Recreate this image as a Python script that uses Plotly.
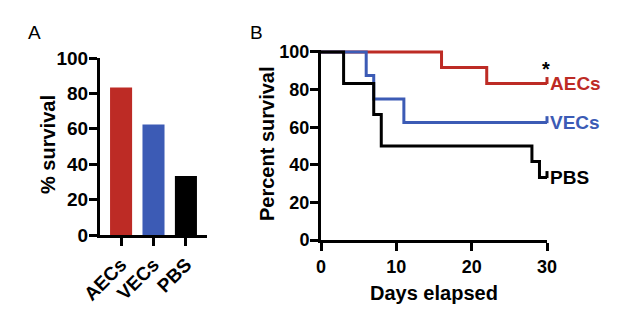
import plotly.graph_objects as go

# Panel A data
groups = ["AECs", "VECs", "PBS"]
pct_survival = [83.3, 62.5, 33.3]
colors = ["#bd2b25", "#3c5bb5", "#000000"]

# Panel B data (Kaplan-Meier step curves)
aec_days = [0, 16, 22, 30]
aec_surv = [100, 91.7, 83.3, 83.3]
vec_days = [0, 6, 7, 11, 30]
vec_surv = [100, 87.5, 75, 62.5, 62.5]
pbs_days = [0, 3, 7, 8, 28, 29, 30]
pbs_surv = [100, 83.3, 66.7, 50, 41.7, 33.3, 33.3]

FONT = "Liberation Sans, Arial, sans-serif"

fig = go.Figure()

fig.add_trace(go.Bar(x=groups, y=pct_survival, marker=dict(color=colors, line=dict(width=0)),
                     width=0.68, xaxis="x", yaxis="y", showlegend=False))

series = [(aec_days, aec_surv, colors[0], "AECs"),
          (vec_days, vec_surv, colors[1], "VECs"),
          (pbs_days, pbs_surv, colors[2], "PBS")]
for d, s, c, name in series:
    fig.add_trace(go.Scatter(x=d, y=s, mode="lines", line=dict(shape="hv", color=c, width=3),
                             xaxis="x2", yaxis="y2", showlegend=False, cliponaxis=False))
    fig.add_trace(go.Scatter(x=[d[-1]], y=[s[-1] + 1.5], mode="markers",
                             marker=dict(symbol="line-ns", size=5, line=dict(width=3, color=c)),
                             xaxis="x2", yaxis="y2", showlegend=False, cliponaxis=False))

def axis_common(fs):
    return dict(showline=True, linecolor="black", linewidth=3, ticks="outside",
                tickwidth=3, ticklen=8, tickcolor="black", showgrid=False, zeroline=False,
                automargin=False,
                tickfont=dict(family=FONT, size=fs, color="black", weight="bold"))

title_font = dict(family=FONT, size=20, color="black", weight="bold")

annotations = [
    dict(text="A", x=34/640, y=1-33/328, xref="paper", yref="paper", showarrow=False,
         font=dict(family=FONT, size=19, color="black"), xanchor="center", yanchor="middle"),
    dict(text="B", x=256/640, y=1-33/328, xref="paper", yref="paper", showarrow=False,
         font=dict(family=FONT, size=19, color="black"), xanchor="center", yanchor="middle"),
    dict(text="% survival", x=48/640, y=1-145/328, xref="paper", yref="paper", showarrow=False,
         textangle=-90, font=title_font, xanchor="center", yanchor="middle"),
    dict(text="Percent survival", x=267/640, y=1-144/328, xref="paper", yref="paper",
         showarrow=False, textangle=-90, font=title_font, xanchor="center", yanchor="middle"),
    dict(text="Days elapsed", x=434/640, y=1-293/328, xref="paper", yref="paper",
         showarrow=False, font=title_font, xanchor="center", yanchor="middle"),
]
for d, s, c, name in series:
    annotations.append(dict(text=name, x=d[-1], y=s[-1], xref="x2", yref="y2", showarrow=False,
                            xanchor="left", yanchor="middle", xshift=1,
                            font=dict(family=FONT, size=19, color=c, weight="bold")))
annotations.append(dict(text="*", x=aec_days[-1], y=aec_surv[-1], xref="x2", yref="y2",
                        showarrow=False, xanchor="center", yanchor="middle", xshift=-1, yshift=14,
                        font=dict(family=FONT, size=20, color="black", weight="bold")))

fig.update_layout(
    width=640, height=328, margin=dict(l=0, r=0, t=0, b=0),
    paper_bgcolor="white", plot_bgcolor="white",
    xaxis=dict(domain=[100/640, 207/640], range=[-0.65, 2.65], tickangle=-45, anchor="y",
               **axis_common(19)),
    yaxis=dict(domain=[1-235/328, 1-58/328], range=[0, 100], tickvals=[0, 20, 40, 60, 80, 100],
               anchor="x", ticklabelstandoff=-3, **axis_common(19)),
    xaxis2=dict(domain=[321/640, 547/640], range=[0, 30], tickvals=[0, 10, 20, 30], anchor="y2",
                **axis_common(18)),
    yaxis2=dict(domain=[1-240/328, 1-50.1/328], range=[0, 101], tickvals=[0, 20, 40, 60, 80, 100],
                anchor="x2", ticklabelstandoff=-3, **axis_common(18)),
    annotations=annotations,
)

fig.write_html("out.html")
